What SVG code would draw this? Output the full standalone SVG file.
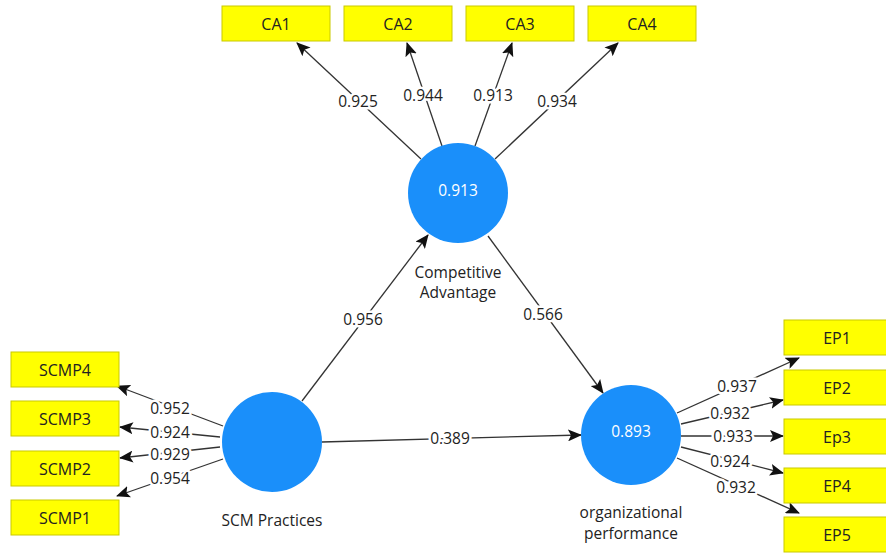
<svg xmlns="http://www.w3.org/2000/svg" width="886" height="554" viewBox="0 0 886 554">
<style>
.box{fill:#ffff00;stroke:#c9c900;stroke-width:1}
.bt{font-family:"Open Sans","DejaVu Sans",sans-serif;font-size:16px;fill:#222;text-anchor:middle;dominant-baseline:central}
.lv{fill:#1a8ffa}
.lt{font-family:"Open Sans","DejaVu Sans",sans-serif;font-size:15.5px;fill:#fff;text-anchor:middle;dominant-baseline:central}
.nm{font-family:"Open Sans","DejaVu Sans",sans-serif;font-size:15.5px;fill:#222;text-anchor:middle;dominant-baseline:central}
.ln{stroke:#333;stroke-width:1.3;fill:none;marker-end:url(#ah)}
.w{font-family:"Open Sans","DejaVu Sans",sans-serif;font-size:15.5px;fill:#222;text-anchor:middle;dominant-baseline:central;stroke:#fff;stroke-width:5;paint-order:stroke;stroke-linejoin:round}
</style>
<defs>
<marker id="ah" markerUnits="userSpaceOnUse" markerWidth="14" markerHeight="12" refX="13" refY="6" orient="auto">
<path d="M0,0 L14,6 L0,12 L3,6 z" fill="#111"/>
</marker>
</defs>
<rect width="886" height="554" fill="#fff"/>
<g id="connectors">
<line class="ln" x1="421" y1="159" x2="297" y2="43"/>
<line class="ln" x1="442" y1="146" x2="407" y2="43"/>
<line class="ln" x1="475" y1="146" x2="512" y2="43"/>
<line class="ln" x1="495" y1="159" x2="618" y2="43"/>
<line class="ln" x1="302" y1="401" x2="428" y2="235"/>
<line class="ln" x1="488" y1="236" x2="603" y2="393"/>
<line class="ln" x1="322" y1="442" x2="581" y2="435"/>
<line class="ln" x1="223" y1="426" x2="117" y2="386"/>
<line class="ln" x1="220" y1="437" x2="120" y2="427"/>
<line class="ln" x1="220" y1="447" x2="120" y2="458"/>
<line class="ln" x1="223" y1="459" x2="117" y2="496"/>
<line class="ln" x1="677" y1="413" x2="799" y2="358"/>
<line class="ln" x1="681" y1="424" x2="783" y2="400"/>
<line class="ln" x1="681" y1="436" x2="783" y2="436"/>
<line class="ln" x1="681" y1="447" x2="783" y2="473"/>
<line class="ln" x1="677" y1="458" x2="799" y2="513"/>
<text class="w" x="358" y="101">0.925</text>
<text class="w" x="423" y="95">0.944</text>
<text class="w" x="493" y="95">0.913</text>
<text class="w" x="557" y="101">0.934</text>
<text class="w" x="363" y="319">0.956</text>
<text class="w" x="543" y="314">0.566</text>
<text class="w" x="450" y="438">0.389</text>
<text class="w" x="170" y="408">0.952</text>
<text class="w" x="170" y="432">0.924</text>
<text class="w" x="170" y="454">0.929</text>
<text class="w" x="170" y="478">0.954</text>
<text class="w" x="737" y="386">0.937</text>
<text class="w" x="730" y="413">0.932</text>
<text class="w" x="733" y="436">0.933</text>
<text class="w" x="730" y="461">0.924</text>
<text class="w" x="736" y="487">0.932</text>
</g>
<g id="CA1"><rect class="box" x="222" y="6" width="108" height="35"/><text class="bt" x="276" y="23.5">CA1</text></g>
<g id="CA2"><rect class="box" x="344" y="6" width="108" height="35"/><text class="bt" x="398" y="23.5">CA2</text></g>
<g id="CA3"><rect class="box" x="466" y="6" width="108" height="35"/><text class="bt" x="520" y="23.5">CA3</text></g>
<g id="CA4"><rect class="box" x="588" y="6" width="108" height="35"/><text class="bt" x="642" y="23.5">CA4</text></g>
<g id="SCMP4"><rect class="box" x="11" y="352" width="108" height="35"/><text class="bt" x="65" y="369.5">SCMP4</text></g>
<g id="SCMP3"><rect class="box" x="11" y="401" width="108" height="35"/><text class="bt" x="65" y="418.5">SCMP3</text></g>
<g id="SCMP2"><rect class="box" x="11" y="451" width="108" height="35"/><text class="bt" x="65" y="468.5">SCMP2</text></g>
<g id="SCMP1"><rect class="box" x="11" y="500" width="108" height="35"/><text class="bt" x="65" y="517.5">SCMP1</text></g>
<g id="EP1"><rect class="box" x="784" y="320" width="108" height="35"/><text class="bt" x="837" y="337.5">EP1</text></g>
<g id="EP2"><rect class="box" x="784" y="370" width="108" height="35"/><text class="bt" x="837" y="387.5">EP2</text></g>
<g id="EP3"><rect class="box" x="784" y="419" width="108" height="35"/><text class="bt" x="837" y="436.5">Ep3</text></g>
<g id="EP4"><rect class="box" x="784" y="468" width="108" height="35"/><text class="bt" x="837" y="485.5">EP4</text></g>
<g id="EP5"><rect class="box" x="784" y="517" width="108" height="35"/><text class="bt" x="837" y="534.5">EP5</text></g>
<g id="CompetitiveAdvantage">
<circle class="lv" cx="458" cy="193" r="50"/>
<text class="lt" x="458" y="190">0.913</text>
<text class="nm" x="458" y="272">Competitive</text>
<text class="nm" x="458" y="292">Advantage</text>
</g>
<g id="SCMPractices">
<circle class="lv" cx="272" cy="442" r="50"/>
<text class="nm" x="272" y="520">SCM Practices</text>
</g>
<g id="OrganizationalPerformance">
<circle class="lv" cx="631" cy="435" r="50"/>
<text class="lt" x="631" y="431">0.893</text>
<text class="nm" x="631" y="512">organizational</text>
<text class="nm" x="631" y="533">performance</text>
</g>
</svg>
